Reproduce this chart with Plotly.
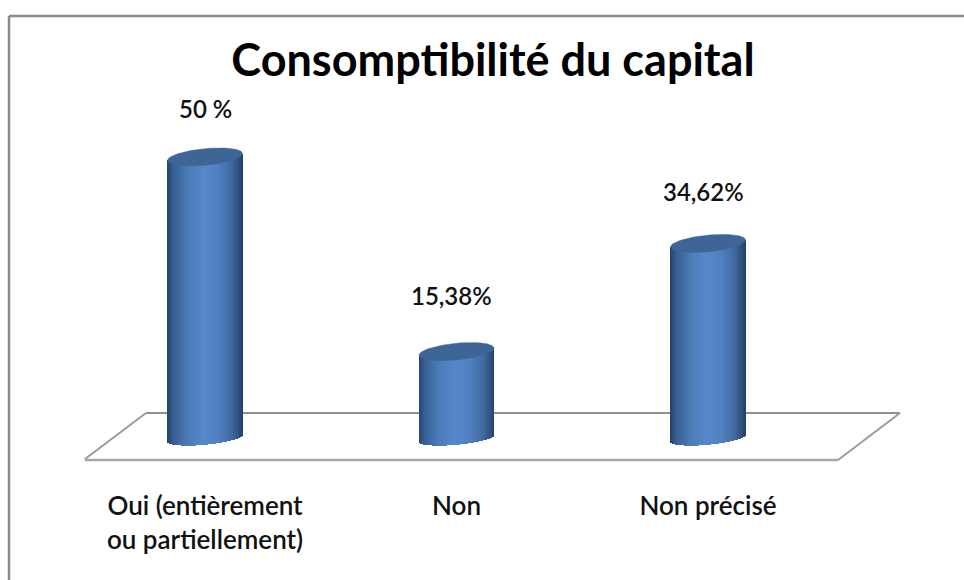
import numpy as np
import plotly.graph_objects as go

categories = ["Oui (entièrement<br>ou partiellement)", "Non", "Non précisé"]
values = [50, 15.38, 34.62]
value_labels = ["50 %", "15,38%", "34,62%"]
title = "Consomptibilité du capital"

W, H, B = 964, 580, 100
PX_PER_X = 251.5
PX_PER_Y = 5.62
X0_PX = 205
Y0_PX = 438
A_PX, B_PX, BASE_B_PX, TILT_PX = 37.5, 8.3, 6.8, 3.5
a, b, b_low, tilt = A_PX / PX_PER_X, B_PX / PX_PER_Y, BASE_B_PX / PX_PER_Y, TILT_PX / PX_PER_Y
xs = list(range(len(categories)))

stops = [(-1.0, (36, 66, 104)), (-0.82, (56, 96, 148)), (-0.45, (76, 124, 184)),
         (-0.05, (86, 136, 202)), (0.35, (82, 130, 194)), (0.7, (66, 108, 164)),
         (0.9, (48, 84, 130)), (1.0, (36, 66, 104))]


def shade(u):
    r = [np.interp(u, [s[0] for s in stops], [s[1][i] for s in stops]) for i in range(3)]
    return "rgb(%d,%d,%d)" % tuple(r)


fig = go.Figure()
N = 76
edges = np.linspace(-a, a, N + 1)
step = edges[1] - edges[0]
for i in range(N):
    mid = (edges[i] + edges[i + 1]) / 2
    u = mid / a
    low = -b_low * np.sqrt(max(0.0, 1 - u * u)) + tilt * u
    tops = [v + tilt * u for v in values]
    fig.add_trace(go.Bar(
        x=xs,
        y=[t - low for t in tops],
        base=[low] * len(xs),
        width=step * (1.3 if i < N - 1 else 1.0),
        offset=float(edges[i]),
        marker=dict(color=shade(u), line=dict(width=0)),
        hoverinfo="skip", showlegend=False,
    ))

t = np.linspace(0, 2 * np.pi, 80)
for x, v in zip(xs, values):
    fig.add_trace(go.Scatter(
        x=x + a * np.cos(t),
        y=v + b * np.sin(t) + tilt * np.cos(t),
        mode="lines", fill="toself", fillcolor="#3d6595",
        line=dict(color="#3d6595", width=0.5),
        hoverinfo="skip", showlegend=False,
    ))


def px(x):
    return x / W


def py(y):
    return 1 - y / (H - B)


def line(x0, y0, x1, y1, color="#8f8f8f", width=2):
    return dict(type="line", xref="paper", yref="paper", x0=px(x0), y0=py(y0),
                x1=px(x1), y1=py(y1), line=dict(color=color, width=width), layer="below")


shapes = [
    line(146, 413, 900, 413),
    line(146, 413, 85, 459, "#9a9a9a"),
    line(900, 413, 838, 460, "#9a9a9a"),
    line(85, 460, 838, 460, "#a6a6a6", 2.5),
    line(9, 16, 964, 16, "#8a8a8a", 2.5),
    line(9, 16, 9, 580, "#8a8a8a", 2.5),
]

label_dx = [0, -5, -5]
label_shift = [49, 56, 52]
annotations = [
    dict(x=x, y=v, text=s, showarrow=False, xshift=dx, yshift=sh, yanchor="middle",
         font=dict(family="Lato", size=24, color="#111111", weight=600))
    for x, v, s, dx, sh in zip(xs, values, value_labels, label_dx, label_shift)
]

fig.update_layout(
    width=W, height=H,
    margin=dict(l=0, r=0, t=0, b=B, autoexpand=False),
    paper_bgcolor="white", plot_bgcolor="white",
    barmode="overlay", bargap=0,
    showlegend=False,
    title=dict(text=title, x=493 / W, xanchor="center", y=1 - 60 / H, yanchor="middle",
               font=dict(family="Lato", size=45, color="black", weight=700)),
    xaxis=dict(range=[-X0_PX / PX_PER_X, (W - X0_PX) / PX_PER_X], tickmode="array",
               tickvals=xs, ticktext=categories, showgrid=False, zeroline=False, showline=False,
               ticks="outside", ticklen=3, tickcolor="white",
               tickfont=dict(family="Lato", size=26, color="#111111", weight=600)),
    yaxis=dict(range=[-(H - B - Y0_PX) / PX_PER_Y, Y0_PX / PX_PER_Y], visible=False),
    shapes=shapes, annotations=annotations,
)
fig.write_html("out.html", config={"displayModeBar": False},
               post_script="document.body.style.margin='0';document.documentElement.style.overflow='hidden';")
